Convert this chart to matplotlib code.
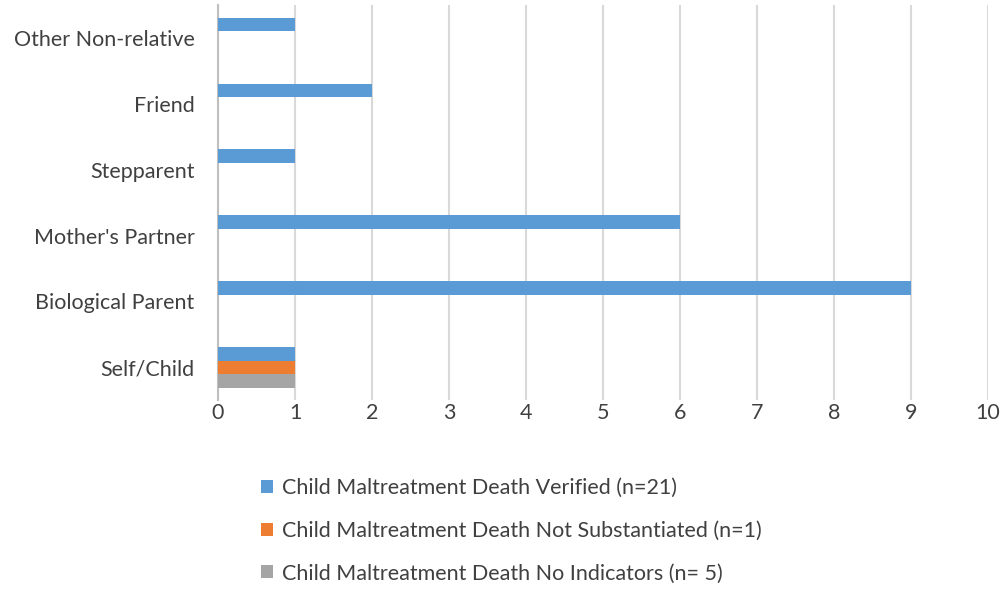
import matplotlib.pyplot as plt
import numpy as np

categories = ["Self/Child", "Biological Parent", "Mother's Partner", "Stepparent", "Friend", "Other Non-relative"]
verified = [1, 9, 6, 1, 2, 1]
not_substantiated = [1, 0, 0, 0, 0, 0]
no_indicators = [1, 0, 0, 0, 0, 0]
series_labels = [
    "Child Maltreatment Death Verified (n=21)",
    "Child Maltreatment Death Not Substantiated (n=1)",
    "Child Maltreatment Death No Indicators (n= 5)",
]
colors = ["#5B9BD5", "#ED7D31", "#A5A5A5"]

plt.rcParams["font.family"] = ["Lato", "DejaVu Sans"]

fig = plt.figure(figsize=(10.08, 5.92), dpi=100)
ax = fig.add_axes([0.2163, 0.324, 0.7637, 0.6676])

y = np.arange(len(categories))
h = 0.205
handles = []
for vals, off, col, lab in zip([verified, not_substantiated, no_indicators], [h, 0, -h], colors, series_labels):
    b = ax.barh(y + off, vals, height=h, color=col, label=lab, zorder=3)
    handles.append(b)

ax.set_xlim(0, 10)
ax.set_ylim(-0.5, len(categories) - 0.5)
ax.set_xticks(range(0, 11))
ax.set_yticks(y)
ax.set_yticklabels(categories)
ax.tick_params(axis="both", length=0, labelsize=15.5, colors="#404040")
ax.tick_params(axis="x", pad=2)
ax.tick_params(axis="y", pad=17)
ax.grid(True, axis="x", color="#D9D9D9", linewidth=1.5, zorder=0)
for s in ["top", "right", "bottom"]:
    ax.spines[s].set_visible(False)
ax.spines["left"].set_color("#BFBFBF")
ax.spines["left"].set_linewidth(1.5)

fig.legend(handles=handles, labels=series_labels, loc="upper left",
           bbox_to_anchor=(0.24, 0.225), frameon=False, fontsize=15.5,
           labelspacing=1.05, handlelength=0.55, handleheight=0.55,
           handletextpad=0.4, labelcolor="#404040")

fig.savefig("out.png", dpi=100)
